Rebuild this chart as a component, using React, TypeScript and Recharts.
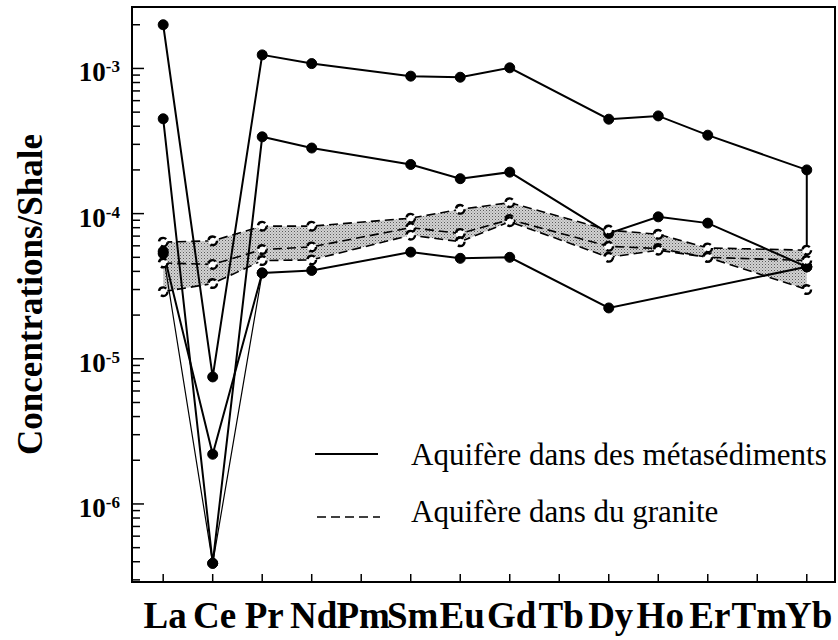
import React from 'react';
import { ComposedChart, Line, Area, XAxis, YAxis, ReferenceArea, Legend } from 'recharts';

const serif = '"Liberation Serif", "Times New Roman", Times, serif';

// rare earth elements on the x axis
const elements = ['La', 'Ce', 'Pr', 'Nd', 'Pm', 'Sm', 'Eu', 'Gd', 'Tb', 'Dy', 'Ho', 'Er', 'Tm', 'Yb'];

// aquifers in metasediments (solid lines, filled dots)
const metaA = [2.0e-3, 7.5e-6, 1.24e-3, 1.08e-3, null, 8.85e-4, 8.7e-4, 1.01e-3, null, 4.47e-4, 4.71e-4, 3.47e-4, null, 2.0e-4];
const metaATail = 4.3e-5; // vertical drop drawn at Yb
const metaB = [4.5e-4, 3.9e-7, 3.38e-4, 2.83e-4, null, 2.18e-4, 1.74e-4, 1.93e-4, null, 7.3e-5, 9.5e-5, 8.6e-5, null, 4.3e-5];
const metaC = [5.5e-5, 2.2e-6, 3.9e-5, 4.06e-5, null, 5.43e-5, 4.92e-5, 5.0e-5, null, 2.24e-5, null, null, null, 4.3e-5];
const metaD = [5.3e-5, 3.9e-7, 3.9e-5, null, null, null, null, null, null, null, null, null, null, null];

// aquifers in granite (dashed lines, open dots)
const granite1 = [6.36e-5, 6.5e-5, 8.2e-5, 8.2e-5, null, 9.3e-5, 1.07e-4, 1.19e-4, null, 7.7e-5, 7.2e-5, 5.8e-5, null, 5.6e-5];
const granite2 = [4.57e-5, 4.47e-5, 5.66e-5, 5.9e-5, null, 8.0e-5, 7.3e-5, 9.1e-5, null, 5.95e-5, 5.75e-5, 5.0e-5, null, 4.75e-5];
const granite3 = [2.9e-5, 3.3e-5, 4.75e-5, 4.8e-5, null, 7.1e-5, 6.4e-5, 8.8e-5, null, 5.0e-5, 5.6e-5, 5.0e-5, null, 3.0e-5];

const decades = [1e-6, 1e-5, 1e-4, 1e-3];
const decadeLabels = ['-6', '-5', '-4', '-3'];
const tickBases = [1e-7, 1e-6, 1e-5, 1e-4, 1e-3];
const tickSteps = [1, 2, 3, 4, 5, 6, 7, 8, 9];
const yDomain = [2.9e-7, 2.65e-3];
const xDomain = [-0.63, 13.57];
const xTicks = elements.map((_, i) => i);

const yTicks: number[] = [];
tickBases.forEach((b) => tickSteps.forEach((s) => {
  const v = b * s;
  if (v >= yDomain[0] && v <= yDomain[1]) yTicks.push(v);
}));

const toPoints = (vals: (number | null)[]) =>
  vals.map((v, i) => ({ x: i, v })).filter((p) => p.v != null);

const dataA = [...toPoints(metaA), { x: 13, v: metaATail }];
const dataB = toPoints(metaB);
const dataC = toPoints(metaC);
const dataD = toPoints(metaD);
const dataG1 = toPoints(granite1);
const dataG2 = toPoints(granite2);
const dataG3 = toPoints(granite3);
const bandData = granite1
  .map((hi, i) => ({ x: i, band: hi != null && granite3[i] != null ? [granite3[i], hi] : null }))
  .filter((r) => r.band != null);

const YTick = (props: any) => {
  const { x, y, payload } = props;
  const idx = decades.findIndex((d) => Math.abs(d - payload.value) / d < 1e-6);
  const major = idx >= 0;
  return (
    <g>
      <line x1={x} x2={x + (major ? 12 : 8)} y1={y} y2={y} stroke="#000" strokeWidth={1.5} />
      {major && (
        <text x={x - 12} y={y + 13} textAnchor="end" fontFamily={serif} fontWeight="bold" fontSize={27} fill="#000">
          10<tspan dy={-9} fontSize={17}>{decadeLabels[idx]}</tspan>
        </text>
      )}
    </g>
  );
};

const XTick = (props: any) => {
  const { x, y, payload } = props;
  return (
    <g>
      <line x1={x} x2={x} y1={y} y2={y - 8} stroke="#000" strokeWidth={1.5} />
      <text x={x + 2} y={y + 46} textAnchor="middle" fontFamily={serif} fontWeight="bold" fontSize={37} fill="#000">
        {elements[payload.value]}
      </text>
    </g>
  );
};

const YLabel = (props: any) => {
  const vb = props.viewBox || { x: 0, y: 7, width: 132, height: 575 };
  const cy = vb.y + vb.height / 2;
  return (
    <text x={42} y={cy} transform={`rotate(-90, 42, ${cy})`} textAnchor="middle" fontFamily={serif}
      fontWeight="bold" fontSize={35} fill="#000">
      Concentrations/Shale
    </text>
  );
};

const LegendBox = () => (
  <svg width={530} height={120} style={{ display: 'block' }}>
    <line x1={15} x2={78} y1={34} y2={34} stroke="#000" strokeWidth={2} />
    <text x={111} y={45} fontFamily={serif} fontSize={31} fill="#000">Aquifère dans des métasédiments</text>
    <line x1={17} x2={80} y1={97} y2={97} stroke="#000" strokeWidth={1.6} strokeDasharray="9 5" />
    <text x={111} y={102} fontFamily={serif} fontSize={31} fill="#000">Aquifère dans du granite</text>
  </svg>
);

const solidDot = { r: 5, fill: '#000', stroke: '#000', strokeWidth: 1 };
const openDot = { r: 4.3, fill: '#fff', stroke: '#000', strokeWidth: 2.4 };

export default function App() {
  return (
    <div style={{ position: 'absolute', left: 0, top: 0, background: '#fff' }}>
      <ComposedChart width={838} height={640} margin={{ top: 7, right: 3, bottom: 0, left: 0 }}>
        <defs>
          <pattern id="stipple" width="3" height="3" patternUnits="userSpaceOnUse">
            <rect width="3" height="3" fill="#d2d2d2" />
            <rect x="0" y="0" width="1" height="1" fill="#5a5a5a" />
            <rect x="1.5" y="1.5" width="1" height="1" fill="#8a8a8a" />
          </pattern>
        </defs>
        <XAxis dataKey="x" type="number" domain={xDomain} ticks={xTicks} interval={0} height={58}
          axisLine={false} tickLine={false} tickSize={0} tickMargin={0} tick={<XTick />} allowDataOverflow />
        <YAxis type="number" scale="log" domain={yDomain} ticks={yTicks} interval={0} width={132}
          axisLine={false} tickLine={false} tickSize={0} tickMargin={0} tick={<YTick />} allowDataOverflow
          label={<YLabel />} />
        <Area data={bandData} dataKey="band" type="linear" stroke="none" fill="url(#stipple)" fillOpacity={1}
          isAnimationActive={false} activeDot={false} />
        <Line data={dataD} dataKey="v" type="linear" stroke="#000" strokeWidth={1.2} dot={solidDot} activeDot={false} isAnimationActive={false} />
        <Line data={dataC} dataKey="v" type="linear" stroke="#000" strokeWidth={2} dot={solidDot} activeDot={false} isAnimationActive={false} />
        <Line data={dataB} dataKey="v" type="linear" stroke="#000" strokeWidth={2} dot={solidDot} activeDot={false} isAnimationActive={false} />
        <Line data={dataA} dataKey="v" type="linear" stroke="#000" strokeWidth={2} dot={solidDot} activeDot={false} isAnimationActive={false} />
        <Line data={dataG1} dataKey="v" type="linear" stroke="#000" strokeWidth={1.6} strokeDasharray="9 5" dot={openDot} activeDot={false} isAnimationActive={false} />
        <Line data={dataG2} dataKey="v" type="linear" stroke="#000" strokeWidth={1.6} strokeDasharray="9 5" dot={openDot} activeDot={false} isAnimationActive={false} />
        <Line data={dataG3} dataKey="v" type="linear" stroke="#000" strokeWidth={1.6} strokeDasharray="9 5" dot={openDot} activeDot={false} isAnimationActive={false} />
        <ReferenceArea x1={xDomain[0]} x2={xDomain[1]} y1={yDomain[0]} y2={yDomain[1]} fill="none" fillOpacity={0}
          stroke="#000" strokeWidth={2} ifOverflow="visible" />
        <Legend layout="horizontal" verticalAlign="middle" align="center" content={() => <LegendBox />}
          wrapperStyle={{ left: 300, top: 420, width: 530, height: 120 }} />
      </ComposedChart>
    </div>
  );
}
